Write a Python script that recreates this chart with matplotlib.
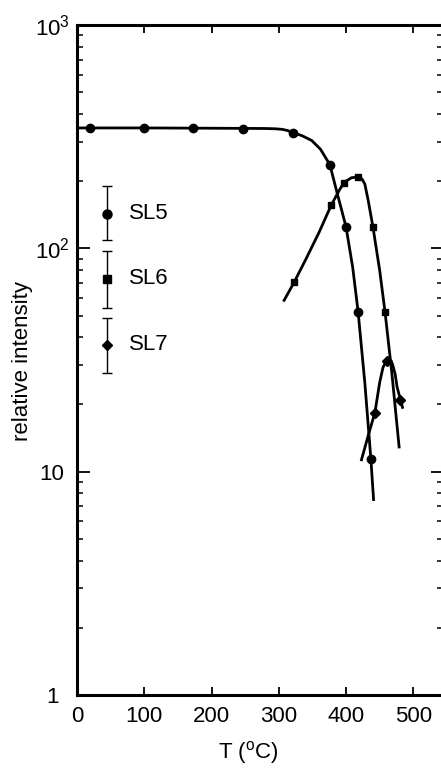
import numpy as np
import matplotlib
matplotlib.use("Agg")
import matplotlib.pyplot as plt
from matplotlib.ticker import FixedLocator, LogLocator, NullFormatter

plt.rcParams["font.family"] = ["Liberation Sans", "DejaVu Sans"]
plt.rcParams["mathtext.fontset"] = "custom"
plt.rcParams["mathtext.rm"] = "Liberation Sans"
plt.rcParams["mathtext.it"] = "Liberation Sans"

# ------------------------------------------------------------
# measured points (T in deg C, relative intensity)
# ------------------------------------------------------------
sl5_T = [19, 100, 172, 247, 321, 376, 400, 418, 437]
sl5_I = [346, 346, 345, 344, 330, 237, 125, 52, 11.4]

sl6_T = [323, 378, 397, 418, 440, 458]
sl6_I = [70.6, 156, 197, 209, 125, 52]

sl7_T = [443, 461, 481]
sl7_I = [18.4, 31.2, 21.0]

# hand-drawn guide curves
sl5_curve_T = [0, 100, 200, 280, 295, 305, 313, 321, 335, 349, 362, 376, 387, 400, 410, 418, 428, 437, 441]
sl5_curve_I = [346, 346, 345, 344, 343, 341, 337, 330, 319, 304, 278, 237, 176, 125, 82, 52, 25, 11.4, 7.5]

sl6_curve_T = [308, 323, 340, 360, 378, 390, 397, 408, 418, 424, 428, 433, 440, 450, 458, 468, 479]
sl6_curve_I = [58.5, 70.6, 89, 118, 156, 182, 197, 207, 209, 204, 194, 164, 125, 80, 52, 28, 12.9]

sl7_curve_T = [423, 433, 443, 450, 455, 461, 465, 469, 473, 476, 481, 484]
sl7_curve_I = [11.3, 14.5, 18.4, 25.0, 29.3, 31.6, 31.8, 30.4, 27.4, 23.9, 21.0, 19.4]

# legend key (symbol with typical error bar)
key_T = 45
key_I = [143, 73, 37]
key_lo = [109, 54.2, 27.6]
key_hi = [190, 97, 48.7]
key_marker = ["o", "s", "D"]
key_size = [6.5, 5.5, 5.5]
key_label = ["SL5", "SL6", "SL7"]

y_ticks = [1, 10, 100, 1000]
y_ticklabels = ["1", "10", "$10^2$", "$10^3$"]
x_ticks = [0, 100, 200, 300, 400, 500]

# ------------------------------------------------------------
fig = plt.figure(figsize=(4.41, 7.69), dpi=100)
ax = fig.add_axes([77 / 441, 1 - 695 / 769, (443 - 77) / 441, (695 - 25) / 769])

ax.plot(sl5_curve_T, sl5_curve_I, color="black", lw=2.0, zorder=2)
ax.plot(sl6_curve_T, sl6_curve_I, color="black", lw=2.0, zorder=2)
ax.plot(sl7_curve_T, sl7_curve_I, color="black", lw=2.0, zorder=2)

ax.plot(sl5_T, sl5_I, "o", color="black", ms=6, mfc="black", zorder=3)
ax.plot(sl6_T, sl6_I, "s", color="black", ms=5, zorder=3)
ax.plot(sl7_T, sl7_I, "D", color="black", ms=5, zorder=3)

for i in range(len(key_I)):
    err = [[key_I[i] - key_lo[i]], [key_hi[i] - key_I[i]]]
    ax.errorbar([key_T], [key_I[i]], yerr=err, fmt=key_marker[i], color="black",
                ms=key_size[i], elinewidth=1.0, capsize=3.5, capthick=1.0)
    ax.text(key_T + 33, key_I[i], key_label[i], fontsize=16, va="center", ha="left")

ax.set_yscale("log")
ax.set_ylim(1, 1000)
ax.set_xlim(0, (443 - 77) / 0.6725)

ax.xaxis.set_major_locator(FixedLocator(x_ticks))
ax.set_xticklabels([str(t) for t in x_ticks])
ax.yaxis.set_major_locator(FixedLocator(y_ticks))
ax.set_yticklabels(y_ticklabels)
ax.yaxis.set_minor_locator(LogLocator(base=10, subs=np.arange(2, 10)))
ax.yaxis.set_minor_formatter(NullFormatter())

ax.tick_params(axis="x", which="major", direction="in", length=6, width=1.3,
               top=True, labelsize=16, pad=8)
ax.tick_params(axis="y", which="major", direction="in", length=9, width=1.3,
               right=True, labelsize=16, pad=18)
ax.tick_params(axis="y", which="minor", direction="in", length=4.5, width=1.1,
               right=True)
for lab in ax.get_yticklabels():
    lab.set_horizontalalignment("center")

for side in ["left", "bottom", "top", "right"]:
    ax.spines[side].set_linewidth(2.2)

ax.set_xlabel(r"T ($^{\mathrm{o}}$C)", fontsize=16)
ax.set_ylabel("relative intensity", fontsize=16)
ax.xaxis.set_label_coords((248 - 77) / 366, (695 - 753) / 670)
ax.yaxis.set_label_coords((23 - 77) / 366, (695 - 361) / 670)
ax.xaxis.label.set_va("center")
ax.yaxis.label.set_va("center")

fig.savefig("out.png", dpi=100)
